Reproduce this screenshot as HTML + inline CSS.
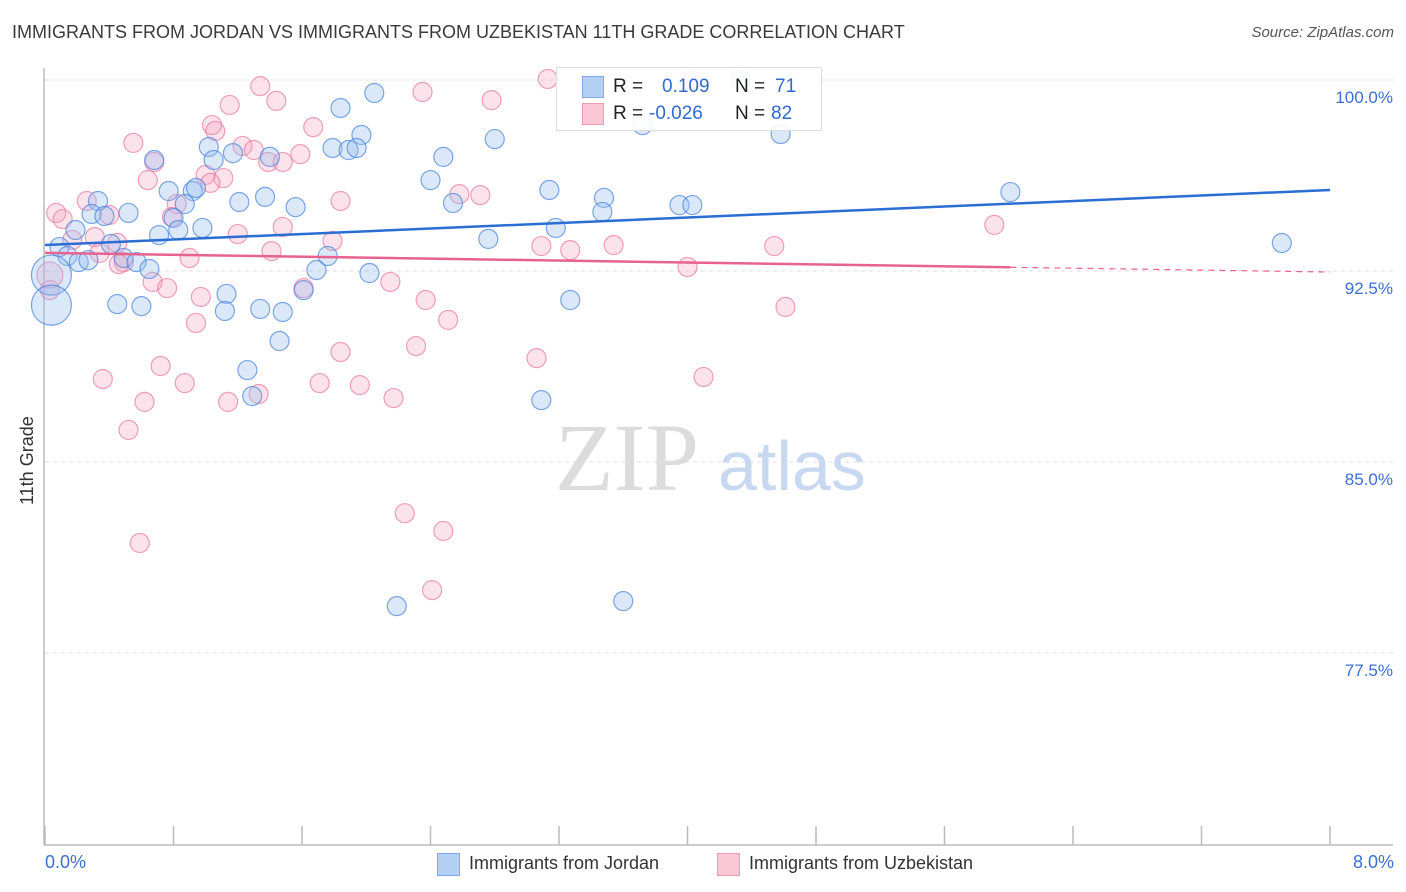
<!DOCTYPE html>
<html><head><meta charset="utf-8">
<style>
body{margin:0;background:#fff;font-family:"Liberation Sans",sans-serif;}
#wrap{position:relative;width:1406px;height:892px;overflow:hidden;}
.t{position:absolute;white-space:nowrap;}
</style></head>
<body>
<div id="wrap">
<div class="t" style="left:12px;top:22px;font-size:18px;color:#3a3a3a;">IMMIGRANTS FROM JORDAN VS IMMIGRANTS FROM UZBEKISTAN 11TH GRADE CORRELATION CHART</div>
<div class="t" style="right:12px;top:24px;font-size:15px;color:#555;font-style:italic;">Source: ZipAtlas.com</div>
<svg id="chart" width="1406" height="892" style="position:absolute;left:0;top:0"></svg>
</div>
<script>
const jordanX=[3.40,4.33,2.05,1.84,3.72,1.97,2.80,4.58,1.79,1.89,1.94,1.02,1.17,1.05,1.40,2.48,0.68,2.40,0.77,0.92,0.94,3.14,6.01,0.33,1.21,1.37,3.48,0.87,1.56,2.54,3.95,4.03,0.29,0.52,0.37,0.80,3.47,0.98,0.83,0.19,0.71,3.18,2.76,7.70,0.09,0.41,0.14,0.21,0.27,0.49,0.57,0.65,1.76,1.69,2.02,0.04,1.61,1.13,3.27,0.45,0.60,1.12,1.34,1.48,1.46,1.26,1.29,3.09,2.19,3.60,0.04];
const jordanY=[99.88,100.0,99.49,98.90,98.23,97.84,97.68,97.88,97.33,97.25,97.33,97.37,97.13,96.86,96.98,96.98,96.86,96.07,95.64,95.64,95.76,95.68,95.60,95.25,95.21,95.41,95.37,95.13,95.01,95.17,95.09,95.09,94.74,94.78,94.66,94.58,94.82,94.19,94.11,94.11,93.91,94.19,93.76,93.60,93.44,93.56,93.09,92.85,92.93,93.01,92.85,92.58,93.09,92.54,92.42,92.34,91.75,91.60,91.36,91.20,91.12,90.93,91.01,90.89,89.75,88.61,87.59,87.43,79.34,79.54,91.16];
const uzbX=[3.13,1.34,2.35,4.03,1.15,1.44,2.78,1.67,1.04,1.06,0.55,1.23,1.30,1.59,0.68,1.39,1.48,1.11,0.64,1.00,1.03,2.58,2.71,1.84,0.82,0.26,0.07,0.11,0.40,0.79,5.91,1.48,1.20,0.17,0.31,1.79,0.45,3.09,3.54,4.54,3.27,0.34,1.41,0.90,0.49,0.46,4.00,2.15,0.67,0.76,1.61,0.97,2.37,4.61,2.51,0.94,2.31,1.84,3.06,0.72,0.36,4.10,0.87,1.71,1.96,0.62,1.14,1.33,2.17,0.52,2.24,2.48,0.59,2.41,0.03,0.03];
const uzbY=[100.04,99.76,99.53,100.0,99.02,99.18,99.21,98.15,98.23,98.00,97.53,97.41,97.25,97.09,96.78,96.78,96.78,96.15,96.07,96.27,95.96,95.52,95.48,95.25,95.13,95.25,94.78,94.54,94.70,94.62,94.31,94.23,93.95,93.72,93.83,93.68,93.60,93.48,93.52,93.48,93.32,93.21,93.28,93.01,92.85,92.77,92.66,92.07,92.07,91.83,91.83,91.48,91.36,91.09,90.58,90.46,89.55,89.32,89.08,88.77,88.26,88.34,88.10,88.10,88.02,87.36,87.36,87.67,87.51,86.26,82.99,82.29,81.82,79.97,91.75,92.34];
const yTicks=[100,92.5,85,77.5];
const yTickLabels=["100.0%","92.5%","85.0%","77.5%"];
const jordanTrend=[93.52,95.68]; // y at x=0, x=8
const uzbTrend=[93.21,92.46];
const NS="http://www.w3.org/2000/svg";
const svg=document.getElementById('chart');
const X0=45,X1=1330,Y100=80,PXPER=191/7.5;
function sx(v){return X0+(v/8)*(X1-X0);}
function sy(v){return Y100+(100-v)*PXPER;}
function mk(tag,attrs,parent){const e=document.createElementNS(NS,tag);for(const k in attrs)e.setAttribute(k,attrs[k]);(parent||svg).appendChild(e);return e;}
// gridlines
yTicks.forEach((v,i)=>{
 const g=mk('line',{x1:X0,x2:1393,y1:sy(v),y2:sy(v),stroke:'#ddd','stroke-dasharray':'4,4'});
 
 
 const t=mk('text',{x:1393,y:sy(v)+23,'text-anchor':'end','font-size':17,fill:'#3b6fd1','font-family':'Liberation Sans, sans-serif'});
 t.textContent=yTickLabels[i];
 
 
});
// axes
const ax=mk('line',{x1:44,x2:44,y1:68,y2:845,stroke:'#bbb','stroke-width':1.5});


const bx=mk('line',{x1:44,x2:1393,y1:845,y2:845,stroke:'#bbb','stroke-width':1.5});


for(let i=0;i<=10;i++){
 const xx=sx(i*0.8);
 const tk=mk('line',{x1:xx,x2:xx,y1:826,y2:845,stroke:'#bbb','stroke-width':1.5});
 
 
}
// watermark
const wm=mk('text',{x:555,y:490,'font-size':96,fill:'#dcdcdc','font-family':'Liberation Serif, serif'});wm.textContent='ZIP';


const wm2=mk('text',{x:718,y:490,'font-size':70,fill:'#c8d8f0','font-family':'Liberation Sans, sans-serif'});wm2.textContent='atlas';


// points
function dots(xs,ys,fill,stroke,name){
 xs.forEach((x,i)=>{
  const r=(x<0.05&&(ys[i]<91.3||ys[i]>92.2&&ys[i]<92.4))?(name==='jordan-point'?20:13):9.5;
  const c=mk('circle',{cx:sx(x),cy:sy(ys[i]),r:r,fill:fill,stroke:stroke,'stroke-width':1.2});
  
  
 });
}
dots(uzbX,uzbY,'rgba(245,160,190,0.3)','rgba(232,120,160,0.7)','uzbekistan-point');
dots(jordanX,jordanY,'rgba(150,190,240,0.35)','rgba(70,130,220,0.7)','jordan-point');
// trends
const tl=mk('line',{x1:sx(0),y1:sy(jordanTrend[0]),x2:sx(8),y2:sy(jordanTrend[1]),stroke:'#2a6dd3','stroke-width':2.5});


const uEnd=6.01,uY=uzbTrend[0]+(uzbTrend[1]-uzbTrend[0])*uEnd/8;
const tl2=mk('line',{x1:sx(0),y1:sy(uzbTrend[0]),x2:sx(uEnd),y2:sy(uY),stroke:'#e8628f','stroke-width':2.5});


const tl3=mk('line',{x1:sx(uEnd),y1:sy(uY),x2:sx(8),y2:sy(uzbTrend[1]),stroke:'#e8628f','stroke-width':1.2,'stroke-dasharray':'6,5'});


</script>
<div class="t" style="left:17px;top:505px;transform:rotate(-90deg);transform-origin:left top;font-size:18px;color:#333;">11th Grade</div>
<div class="t" style="left:45px;top:852px;font-size:18px;color:#3b6fd1;">0.0%</div>
<div class="t" style="right:12px;top:852px;font-size:18px;color:#3b6fd1;">8.0%</div>
<div style="position:absolute;left:556px;top:67px;width:264px;height:62px;border:1px solid #ddd;background:rgba(255,255,255,0.9);">
 <div style="position:absolute;left:25px;top:8px;width:20px;height:20px;background:#b5d0f5;border:1px solid #7fa8e6;"></div>
 <div class="t" style="left:56px;top:8px;font-size:19px;color:#222;">R =</div>
 <div class="t" style="left:105px;top:8px;font-size:19px;color:#2f6bd0;">0.109</div>
 <div class="t" style="left:178px;top:8px;font-size:19px;color:#222;">N =</div>
 <div class="t" style="left:218px;top:8px;font-size:19px;color:#2f6bd0;">71</div>
 <div style="position:absolute;left:25px;top:35px;width:20px;height:20px;background:#fac6d6;border:1px solid #ee9ab6;"></div>
 <div class="t" style="left:56px;top:35px;font-size:19px;color:#222;">R =</div>
 <div class="t" style="left:92px;top:35px;font-size:19px;color:#2f6bd0;">-0.026</div>
 <div class="t" style="left:178px;top:35px;font-size:19px;color:#222;">N =</div>
 <div class="t" style="left:214px;top:35px;font-size:19px;color:#2f6bd0;">82</div>
</div>
<div style="position:absolute;left:437px;top:853px;width:21px;height:21px;background:#b5d0f5;border:1px solid #7fa8e6;"></div>
<div class="t" style="left:469px;top:853px;font-size:18px;color:#333;">Immigrants from Jordan</div>
<div style="position:absolute;left:717px;top:853px;width:21px;height:21px;background:#fac6d6;border:1px solid #ee9ab6;"></div>
<div class="t" style="left:749px;top:853px;font-size:18px;color:#333;">Immigrants from Uzbekistan</div>
</body></html>
